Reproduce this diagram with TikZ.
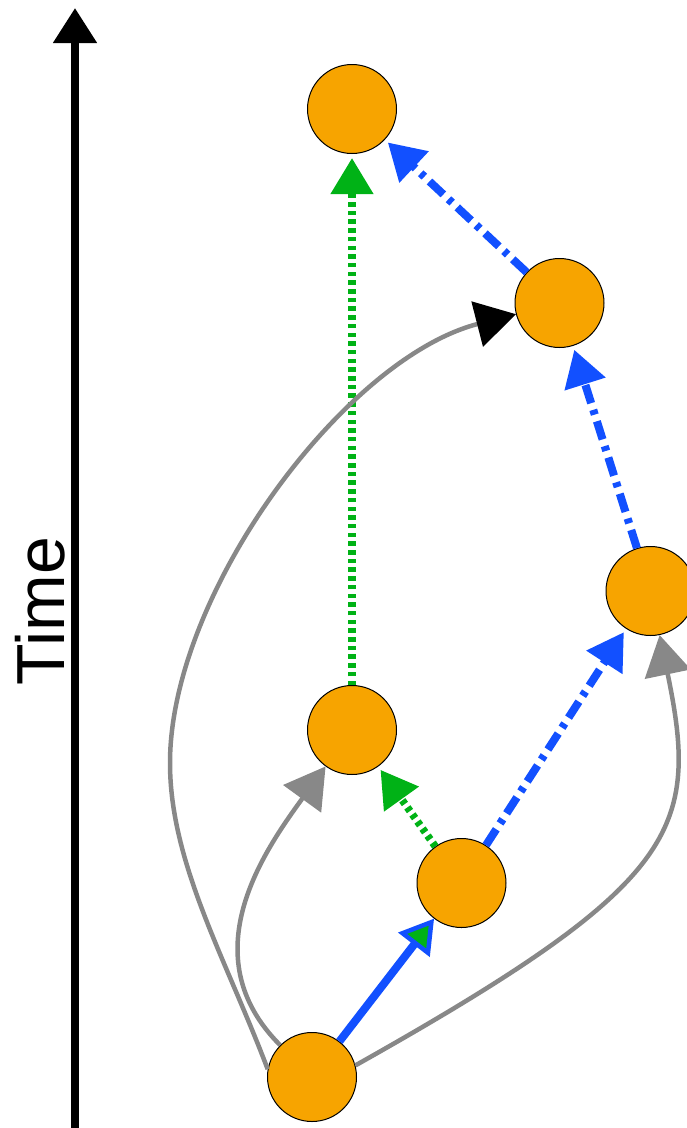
\documentclass[tikz,border=0pt]{standalone}
\usepackage{fontspec}
\setmainfont{Liberation Sans}
\usetikzlibrary{arrows.meta}
\definecolor{nodeorange}{RGB}{247,164,0}
\definecolor{eblue}{RGB}{18,80,255}
\definecolor{egreen}{RGB}{0,178,22}
\definecolor{egray}{RGB}{136,136,136}
\begin{document}
\begin{tikzpicture}[x=1pt,y=-1pt,
  event/.style={circle,draw=black,line width=1pt,fill=nodeorange,minimum size=89pt,inner sep=0pt},
  colhead/.style={-{Triangle[length=36pt,width=41pt]}},
  bluedd/.style={draw=eblue,line width=8pt,dash pattern=on 19pt off 7pt on 5pt off 7pt,colhead,shorten >=4pt},
  greendot/.style={draw=egreen,line width=7.5pt,dash pattern=on 4.5pt off 4.2pt,colhead,shorten >=4pt},
  bluesolid/.style={draw=eblue,line width=8pt,-{Triangle[length=33pt,width=39pt,line width=4.5pt,fill=egreen]}},
  grayedge/.style={draw=egray,line width=4.5pt,-{Triangle[length=40pt,width=46pt]}},
  axisline/.style={line width=8pt,-{Triangle[length=35pt,width=42pt]}},
  timelabel/.style={font=\fontsize{68}{80}\selectfont,rotate=90,inner sep=0pt}
]
\useasboundingbox (0,0) rectangle (687,1128);
% time axis
\coordinate (tbot) at (75,1128);
\coordinate (ttop) at (75,8);
\draw[axisline] (tbot) -- (ttop);
\node[timelabel] (time) at (40.5,611) {Time};
% events
\node[event] (A) at (312,1077) {};
\node[event] (B) at (461.5,883) {};
\node[event] (C) at (352,730) {};
\node[event] (D) at (650.5,591) {};
\node[event] (E) at (559.5,303) {};
\node[event] (F) at (352,109) {};
% coloured edges
\draw[greendot] (C) -- (F);
\draw[greendot] (B) -- (C);
\draw[bluedd] (B) -- (D);
\draw[bluedd] (D) -- (E);
\draw[bluedd] (E) -- (F);
\draw[bluesolid] (A) -- (B);
% gray curves
\coordinate (bend) at (170,763);
\draw[grayedge] (A) .. controls (190,955) and (265,850) .. (C);
\draw[grayedge] (A.15) .. controls (680,883) and (700,830) .. (D);
\draw[grayedge,-{Triangle[length=40pt,width=46pt,black]}] (A.170) .. controls (226,959) and (170,863) .. (bend)
   .. controls (170,593) and (345,358) .. (E);
\end{tikzpicture}
\end{document}
